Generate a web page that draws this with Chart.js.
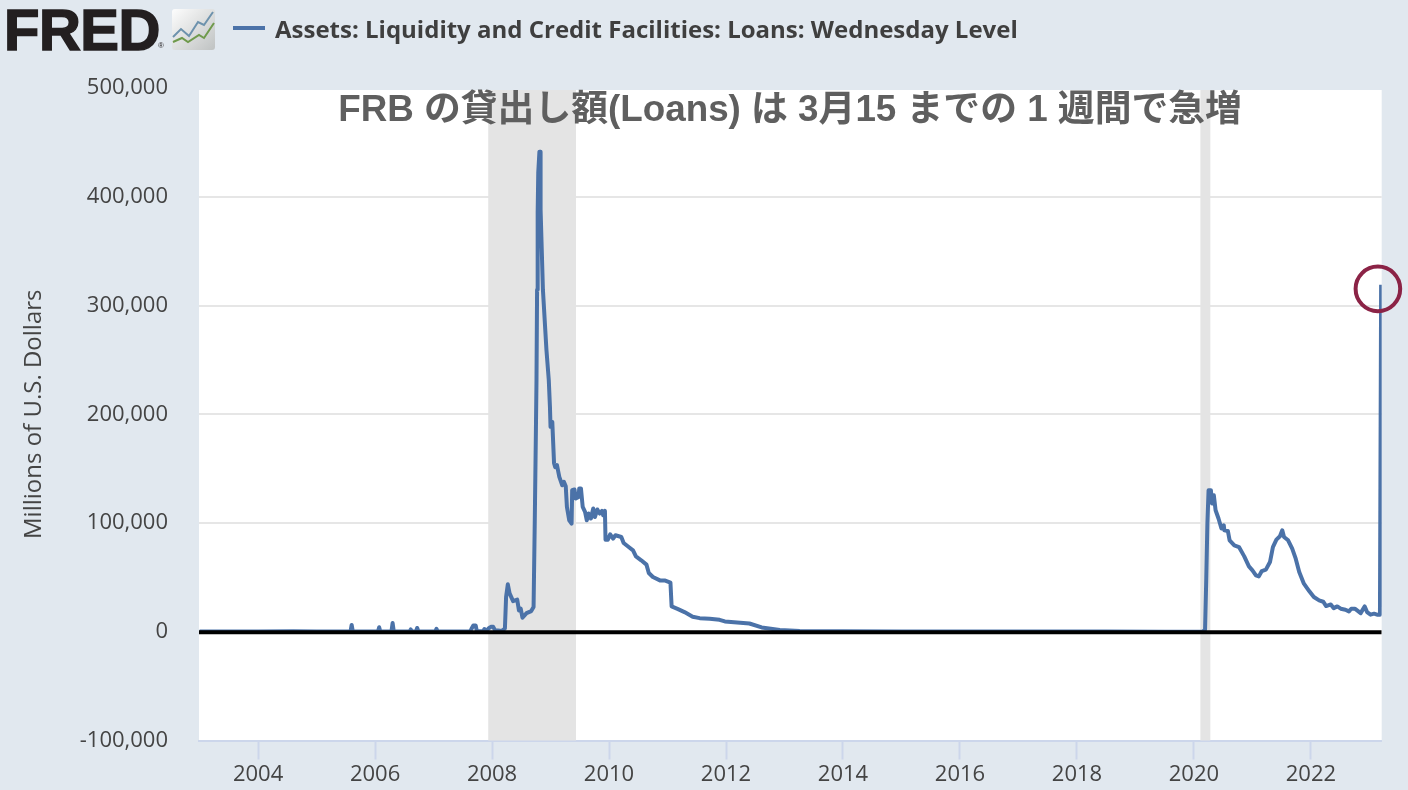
<!DOCTYPE html>
<html>
<head>
<meta charset="utf-8">
<title>FRED Loans</title>
<script src="https://cdn.jsdelivr.net/npm/chart.js@4"></script>
<style>
  html, body { margin: 0; padding: 0; background: #e1e8ef; }
  #page { position: relative; width: 1408px; height: 790px; overflow: hidden; }
  #graph { position: absolute; left: 0; top: 0; }
  #logo { position: absolute; left: 4px; top: -4px; font: bold 58px "Liberation Sans", sans-serif; color: #231f20; -webkit-text-stroke: 1.5px #231f20; letter-spacing: -0.5px; }
  #reg { position: absolute; left: 158px; top: 41px; font: 8px "Liberation Sans", sans-serif; color: #231f20; }
  #icon { position: absolute; left: 172px; top: 9px; }
  #keyline { position: absolute; left: 233px; top: 26px; width: 32px; height: 4px; background: #4b72a8; }
  #keytext { position: absolute; left: 275px; top: 12px; font: bold 24px "Open Sans", sans-serif; color: #3f3f3f; white-space: nowrap; }
</style>
</head>
<body>
<div id="page">
  <canvas id="graph" width="1408" height="790"></canvas>
  <div id="logo">FRED</div>
  <div id="reg">®</div>
  <svg id="icon" width="43" height="41" viewBox="0 0 43 41">
    <defs><linearGradient id="g" x1="0" y1="0" x2="1" y2="1"><stop offset="0" stop-color="#fdfdfd"/><stop offset="1" stop-color="#bfc2c2"/></linearGradient></defs>
    <rect width="43" height="41" rx="3" fill="url(#g)"/>
    <polyline points="1,28 9,20 17,27 26,13 32,16 41,3" fill="none" stroke="#6d92ad" stroke-width="2"/>
    <polyline points="1,33 10,29 16,33 27,26 32,29 42,14" fill="none" stroke="#6f9a4c" stroke-width="2"/>
  </svg>
  <div id="keyline"></div>
  <div id="keytext">Assets: Liquidity and Credit Facilities: Loans: Wednesday Level</div>
</div>
<script>
const dates = [
  2003.0, 2004.0, 2004.6, 2005.0, 2005.58, 2005.6, 2005.62, 2006.05, 2006.07, 2006.09,
  2006.28, 2006.3, 2006.32, 2006.59, 2006.61, 2006.63, 2006.7, 2006.72, 2006.74, 2007.03,
  2007.05, 2007.07, 2007.4, 2007.62, 2007.64, 2007.68, 2007.72, 2007.74, 2007.85, 2007.87,
  2007.9, 2007.95, 2007.98, 2008.02, 2008.05, 2008.1, 2008.17, 2008.22, 2008.24, 2008.27,
  2008.3, 2008.36, 2008.43, 2008.46, 2008.49, 2008.52, 2008.59, 2008.67, 2008.71, 2008.73,
  2008.75, 2008.76, 2008.77, 2008.78, 2008.79, 2008.81, 2008.82, 2008.83, 2008.87, 2008.93,
  2008.97, 2008.99, 2009.0, 2009.03, 2009.06, 2009.08, 2009.11, 2009.15, 2009.2, 2009.23,
  2009.26, 2009.28, 2009.32, 2009.36, 2009.37, 2009.41, 2009.43, 2009.48, 2009.49, 2009.52,
  2009.55, 2009.59, 2009.62, 2009.65, 2009.69, 2009.73, 2009.76, 2009.8, 2009.84, 2009.88,
  2009.9, 2009.93, 2009.94, 2009.98, 2010.02, 2010.07, 2010.11, 2010.21, 2010.25, 2010.32,
  2010.41, 2010.46, 2010.55, 2010.64, 2010.68, 2010.75, 2010.87, 2010.95, 2011.05, 2011.07,
  2011.18, 2011.29, 2011.43, 2011.55, 2011.72, 2011.89, 2011.98, 2012.4, 2012.61, 2012.92,
  2013.26, 2014.0, 2015.0, 2016.0, 2017.0, 2018.5, 2019.5, 2020.15, 2020.19, 2020.21,
  2020.23, 2020.25, 2020.29, 2020.31, 2020.34, 2020.37, 2020.42, 2020.47, 2020.51, 2020.52,
  2020.58, 2020.61, 2020.69, 2020.77, 2020.86, 2020.94, 2021.0, 2021.06, 2021.11, 2021.16,
  2021.23, 2021.3, 2021.35, 2021.41, 2021.47, 2021.51, 2021.54, 2021.61, 2021.68, 2021.74,
  2021.8, 2021.88, 2021.97, 2022.05, 2022.14, 2022.21, 2022.26, 2022.34, 2022.39, 2022.45,
  2022.51, 2022.59, 2022.65, 2022.69, 2022.75, 2022.79, 2022.85, 2022.92, 2022.96, 2023.02,
  2023.08, 2023.13, 2023.18, 2023.2
];
const loans = [
  200, 250, 400, 200, 200, 6300, 200, 200, 4100, 200,
  200, 8100, 300, 300, 2100, 300, 300, 3500, 300, 300,
  2600, 300, 200, 300, 1800, 5800, 5800, 500, 500, 2500,
  500, 3500, 4500, 4500, 1500, 1200, 800, 3000, 31900, 43600,
  35300, 28200, 29500, 19600, 21200, 12900, 17100, 19000, 22700, 99700,
  185400, 231400, 314400, 385300, 422100, 441400, 441400, 388000, 314300, 259100,
  231400, 206800, 188400, 193000, 155000, 151300, 153200, 142400, 134700, 137800,
  133800, 114800, 102500, 99500, 130100, 130800, 122500, 124000, 131700, 131700,
  114800, 110200, 102500, 108700, 104100, 113300, 105500, 112400, 108700, 111100,
  107100, 111100, 84700, 84700, 89600, 85700, 88700, 87100, 81600, 78600,
  74900, 69300, 65700, 61700, 54000, 50300, 47200, 47200, 45100, 23300,
  20800, 18100, 13800, 12500, 12000, 11000, 9500, 7600, 4000, 1700,
  700, 400, 300, 250, 200, 300, 100, 100, 1800, 47200,
  99700, 130100, 130100, 117900, 125500, 111700, 104100, 94900, 97900, 93300,
  92700, 84100, 79500, 77900, 69300, 60100, 56500, 51900, 50900, 55800,
  57100, 64100, 77900, 84700, 87800, 93300, 87100, 84100, 76400, 67200,
  54900, 44200, 37400, 31900, 28800, 27600, 23600, 25100, 21700, 23300,
  21200, 20300, 18700, 21200, 21200, 19600, 17100, 23300, 18100, 15700,
  16600, 15700, 15700, 319000
];
const seriesName = "Assets: Liquidity and Credit Facilities: Loans: Wednesday Level";
const recessions = [[2007.935, 2009.435], [2020.11, 2020.28]];
const noteText = "FRB の貸出し額(Loans) は 3月15 までの 1 週間で急増";
const circled = [2023.145, 315300];
const zeroLevel = -500;
const xMin = 2002.99, xMax = 2023.21;

// fond blanc + recessions, sous les series
const fond = {
  id: "fond",
  beforeDraw(chart) {
    const { ctx, chartArea: a } = chart;
    ctx.save();
    ctx.fillStyle = "#ffffff";
    ctx.fillRect(a.left, a.top + 2, a.right - a.left, a.bottom - a.top - 2);
    ctx.restore();
  },
  beforeDatasetsDraw(chart) {
    const { ctx, chartArea: a, scales: { x } } = chart;
    ctx.save();
    ctx.fillStyle = "#e4e4e4";
    recessions.forEach(r => {
      const x1 = x.getPixelForValue(r[0]);
      const x2 = x.getPixelForValue(r[1]);
      ctx.fillRect(x1, a.top + 2, x2 - x1, a.bottom - a.top - 2);
    });
    ctx.restore();
  },
  afterDraw(chart) {
    const { ctx } = chart;
    ctx.save();
    ctx.font = 'bold 36.8px "Liberation Sans", "Noto Sans CJK JP", sans-serif';
    ctx.fillStyle = "#5f5f5f";
    ctx.textBaseline = "middle";
    ctx.textAlign = "center";
    ctx.fillText(noteText, 790, 111);
    ctx.restore();
  }
};

new Chart(document.getElementById("graph"), {
  type: "line",
  data: {
    datasets: [
      {
        label: "circle",
        data: [{ x: circled[0], y: circled[1] }],
        showLine: false,
        pointRadius: 22.3,
        pointBorderWidth: 4,
        pointBorderColor: "#8b2346",
        pointBackgroundColor: "rgba(0,0,0,0)",
        clip: false,
        order: 0
      },
      {
        label: "zero",
        data: [{ x: xMin, y: zeroLevel }, { x: xMax, y: zeroLevel }],
        borderColor: "#000000",
        borderWidth: 4,
        pointRadius: 0,
        order: 1
      },
      {
        label: seriesName,
        data: dates.map((d, i) => ({ x: d, y: loans[i] })),
        borderColor: "#4b72a8",
        borderWidth: 4,
        pointRadius: 0,
        tension: 0,
        borderJoinStyle: "round",
        order: 2
      }
    ]
  },
  options: {
    responsive: false,
    animation: false,
    parsing: false,
    normalized: true,
    layout: { padding: { right: 25, top: 88 } },
    plugins: { legend: { display: false }, tooltip: { enabled: false } },
    scales: {
      x: {
        type: "linear",
        min: xMin,
        max: xMax,
        afterFit: s => { s.height = 49.5; s.paddingRight = 0; s.paddingLeft = 0; },
        border: { color: "#ccd6eb", width: 2 },
        grid: { drawOnChartArea: false, tickLength: 19, tickColor: "#ccd6eb", tickWidth: 2 },
        ticks: {
          stepSize: 2,
          includeBounds: false,
          maxRotation: 0,
          padding: 2,
          color: "#444444",
          font: { family: '"Open Sans"', size: 22 },
          callback: v => String(v)
        }
      },
      y: {
        min: -100000,
        max: 500000,
        afterFit: s => { s.width = 199; },
        border: { display: false },
        grid: {
          drawTicks: false,
          lineWidth: 2,
          color: c => (c.tick && c.tick.value === 500000 ? "rgba(0,0,0,0)" : "#e6e6e6")
        },
        ticks: {
          stepSize: 100000,
          padding: 31,
          color: "#444444",
          font: { family: '"Open Sans"', size: 22 },
          callback: v => v.toLocaleString("en-US")
        },
        title: {
          display: true,
          text: "Millions of U.S. Dollars",
          color: "#444444",
          font: { family: '"Open Sans"', size: 24 },
          padding: { top: 20, bottom: 0 }
        }
      }
    }
  },
  plugins: [fond]
});
</script>
</body>
</html>
